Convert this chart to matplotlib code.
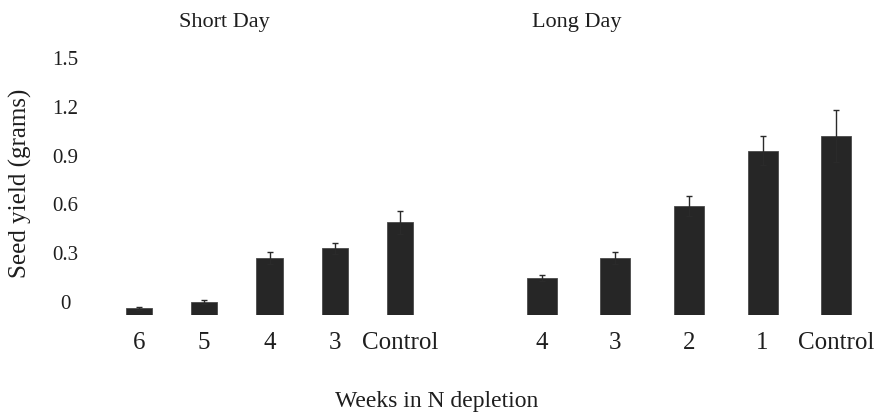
import numpy as np
import matplotlib
matplotlib.use("Agg")
import matplotlib.pyplot as plt

plt.rcParams["font.family"] = ["Liberation Serif", "DejaVu Serif"]

# seed yield per treatment, mean and error (grams)
sd_labels = ["6", "5", "4", "3", "Control"]
sd_yield = [-0.04, 0.0, 0.27, 0.33, 0.49]
sd_err = [0.01, 0.012, 0.035, 0.035, 0.07]

ld_labels = ["4", "3", "2", "1", "Control"]
ld_yield = [0.15, 0.27, 0.59, 0.93, 1.02]
ld_err = [0.018, 0.035, 0.06, 0.09, 0.16]

y_ticks = [0, 0.3, 0.6, 0.9, 1.2, 1.5]
y_tick_labels = ["0", "0.3", "0.6", "0.9", "1.2", "1.5"]

BASE = -0.08     # bars rise from just below the zero label
Y_TOP = 1.55
W, H = 882, 415
BAR_COLOR = "#262626"
TEXT_COLOR = "#1e1e1e"

fig = plt.figure(figsize=(W / 100, H / 100), dpi=100)
fig.patch.set_facecolor("white")

bottom = (H - 315) / H
height = (315 - 50) / H
ax_sd = fig.add_axes([106 / W, bottom, (433 - 106) / W, height])
ax_ld = fig.add_axes([505 / W, bottom, (873 - 505) / W, height])


def draw_panel(ax, labels, vals, errs, width):
    x = np.arange(len(labels))
    vals = np.asarray(vals)
    ax.bar(x, vals - BASE, bottom=BASE, width=width, color=BAR_COLOR,
           edgecolor="#4a4a4a", linewidth=0.6, zorder=2)
    ax.errorbar(x, vals, yerr=errs, fmt="none", ecolor="#2a2a2a",
                elinewidth=1.0, capsize=2, capthick=1.0, zorder=3)
    ax.set_xlim(-0.5, len(labels) - 0.5)
    ax.set_ylim(BASE, Y_TOP)
    ax.set_xticks(x)
    ax.set_xticklabels(labels, fontsize=18, color=TEXT_COLOR)
    ax.tick_params(axis="x", length=0, pad=12)
    for s in ax.spines.values():
        s.set_visible(False)
    ax.set_facecolor("none")


draw_panel(ax_sd, sd_labels, sd_yield, sd_err, 0.4)
draw_panel(ax_ld, ld_labels, ld_yield, ld_err, 0.41)

ax_sd.set_yticks(y_ticks)
ax_sd.set_yticklabels(y_tick_labels, fontsize=15, color=TEXT_COLOR)
ax_sd.tick_params(axis="y", length=0, pad=29.5)
for t in ax_sd.get_yticklabels():
    t.set_horizontalalignment("center")
ax_ld.set_yticks([])

fig.text(224 / W, 1 - 23 / H, "Short Day", fontsize=16, color=TEXT_COLOR,
         ha="center", va="center")
fig.text(577 / W, 1 - 23 / H, "Long Day", fontsize=16, color=TEXT_COLOR,
         ha="center", va="center")
fig.text(20 / W, 1 - 183 / H, "Seed yield (grams)", fontsize=18,
         color=TEXT_COLOR, rotation=90, ha="center", va="center")
fig.text(437 / W, 1 - 401 / H, "Weeks in N depletion", fontsize=17,
         color=TEXT_COLOR, ha="center", va="center")

fig.savefig("out.png", dpi=100, facecolor="white")
